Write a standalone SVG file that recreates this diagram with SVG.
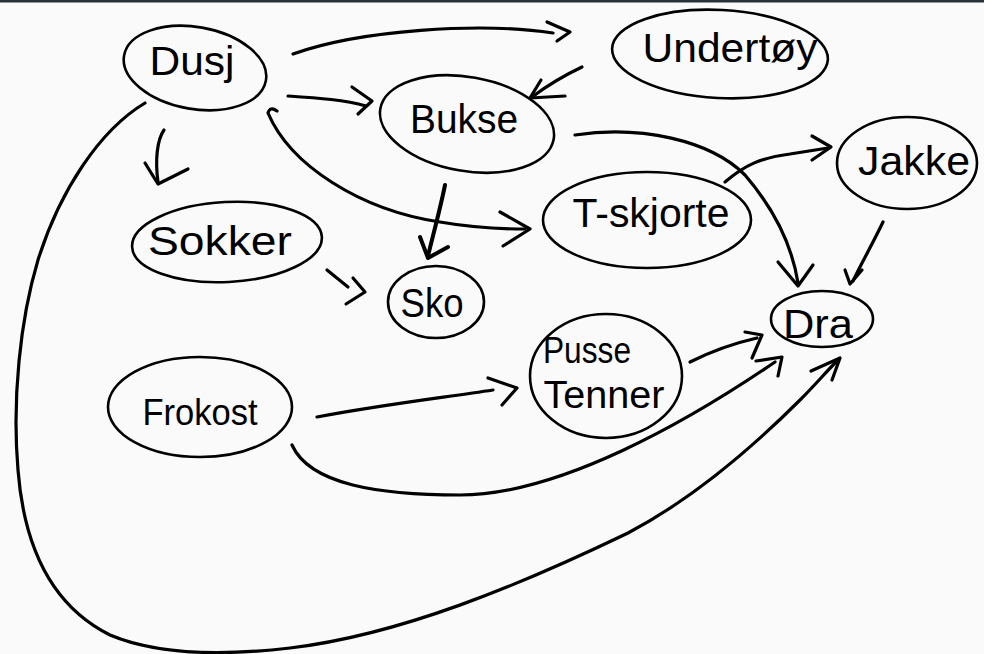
<svg xmlns="http://www.w3.org/2000/svg" width="984" height="654" viewBox="0 0 984 654">
<style>
.n{fill:none;stroke:#000;stroke-width:2.6}
.c{fill:none;stroke:#000;stroke-width:3.2;stroke-linecap:round;stroke-linejoin:round}
.t{font-family:"Liberation Sans","DejaVu Sans",sans-serif;font-size:40px;fill:#000;text-anchor:middle}
</style>
<rect x="0" y="0" width="984" height="654" fill="#fafafa"/>
<rect x="0" y="0" width="984" height="2.5" fill="#263238"/>
<g id="connectors">
  <path class="c" d="M293,54 C360,30 480,22 553,33"/>
  <path class="c" d="M547,22 L570,32 L557,41"/>
  <path class="c" d="M582,67 C565,75 548,85 532,97"/>
  <path class="c" d="M541,80 L530,98 L565,96"/>
  <path class="c" d="M288,96 C320,98 345,100 366,106"/>
  <path class="c" d="M352,87 L372,101 L358,114"/>
  <path class="c" d="M277,111 Q270,106 268,113 C290,165 360,210 440,222 Q480,229 525,229"/>
  <path class="c" d="M500,212 L530,229 L503,246"/>
  <path class="c" style="stroke-width:4" d="M445,185 C440,210 433,235 428,256"/>
  <path class="c" style="stroke-width:4" d="M420,237 L428,258 L448,247"/>
  <path class="c" d="M164,130 C157,140 155,160 158,182"/>
  <path class="c" d="M145,163 L158,184 L188,169"/>
  <path class="c" d="M327,270 L348,287"/>
  <path class="c" d="M353,278 L365,292 L346,304"/>
  <path class="c" d="M575,135 C640,125 710,140 745,175 C775,210 792,245 798,283"/>
  <path class="c" d="M778,262 L798,286 L813,265"/>
  <path class="c" d="M725,182 C745,165 760,158 790,154 L828,148"/>
  <path class="c" d="M812,136 L831,147 L812,160"/>
  <path class="c" d="M883,222 C872,245 862,262 853,281"/>
  <path class="c" d="M845,270 L850,284 L862,270"/>
  <path class="c" d="M317,417 C380,405 440,398 493,390"/>
  <path class="c" d="M488,378 L517,388 L502,405"/>
  <path class="c" d="M690,362 C710,352 735,343 757,338"/>
  <path class="c" d="M745,332 L762,335 L752,358"/>
  <path class="c" d="M292,445 C310,485 380,495 460,495 C560,495 690,420 775,362"/>
  <path class="c" d="M756,361 L782,357 L778,376"/>
  <path class="c" d="M145,103 C100,130 60,190 38,260 C20,320 12,400 18,470 C25,560 60,610 110,635 C160,656 230,655 290,648 C400,635 520,585 628,533 C700,495 760,440 800,400 C815,385 826,372 836,362"/>
  <path class="c" d="M811,371 L840,358 L832,380"/>
</g>
<g id="dusj">
  <ellipse class="n" cx="195" cy="68" rx="72" ry="41" transform="rotate(10 195 68)"/>
  <text class="t" x="192" y="75" textLength="85" lengthAdjust="spacingAndGlyphs">Dusj</text>
</g>
<g id="undertoy">
  <ellipse class="n" cx="720" cy="54" rx="108" ry="44" transform="rotate(3 720 54)"/>
  <text class="t" x="730" y="62" textLength="175" lengthAdjust="spacingAndGlyphs">Undertøy</text>
</g>
<g id="bukse">
  <ellipse class="n" cx="467" cy="124" rx="88" ry="47" transform="rotate(10 467 124)"/>
  <text class="t" x="464" y="133" textLength="108" lengthAdjust="spacingAndGlyphs">Bukse</text>
</g>
<g id="jakke">
  <ellipse class="n" cx="907" cy="163" rx="70" ry="46"/>
  <text class="t" x="914" y="175" textLength="112" lengthAdjust="spacingAndGlyphs">Jakke</text>
</g>
<g id="tskjorte">
  <ellipse class="n" cx="647" cy="220" rx="104" ry="48"/>
  <text class="t" x="651" y="227" textLength="157" lengthAdjust="spacingAndGlyphs">T-skjorte</text>
</g>
<g id="sokker">
  <ellipse class="n" cx="227" cy="242" rx="95" ry="40" transform="rotate(-3 227 242)"/>
  <text class="t" x="220" y="255" textLength="144" lengthAdjust="spacingAndGlyphs">Sokker</text>
</g>
<g id="sko">
  <ellipse class="n" cx="436" cy="302" rx="48" ry="36"/>
  <text class="t" x="432" y="317" textLength="63" lengthAdjust="spacingAndGlyphs">Sko</text>
</g>
<g id="dra">
  <ellipse class="n" cx="822" cy="319" rx="51" ry="28"/>
  <text class="t" x="818" y="338" textLength="70" lengthAdjust="spacingAndGlyphs">Dra</text>
</g>
<g id="pussetenner">
  <ellipse class="n" cx="606" cy="376" rx="76" ry="62"/>
  <text class="t" x="587" y="363" style="font-size:36px" textLength="88" lengthAdjust="spacingAndGlyphs">Pusse</text>
  <text class="t" x="604" y="408" style="font-size:38px" textLength="121" lengthAdjust="spacingAndGlyphs">Tenner</text>
</g>
<g id="frokost">
  <ellipse class="n" cx="200" cy="407" rx="92" ry="50"/>
  <text class="t" x="200" y="425" style="font-size:37px" textLength="115" lengthAdjust="spacingAndGlyphs">Frokost</text>
</g>
</svg>
